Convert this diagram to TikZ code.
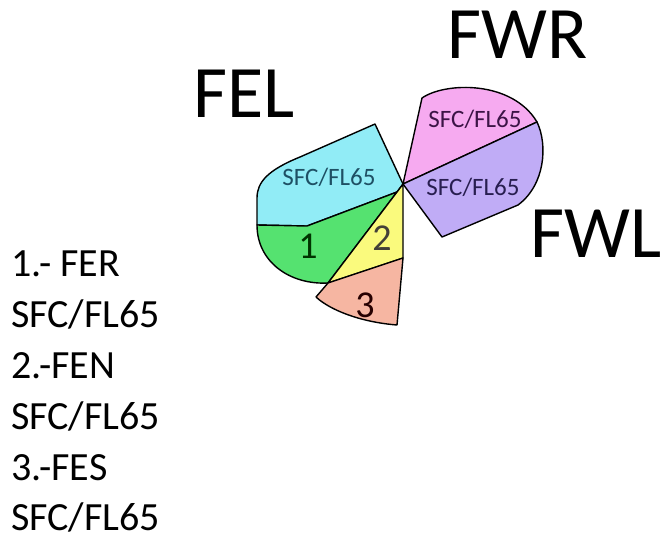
\documentclass[tikz,border=0pt]{standalone}
\usepackage{fontspec}
\setmainfont{Carlito}
\definecolor{cyanF}{RGB}{145,236,246}
\definecolor{greenF}{RGB}{85,226,112}
\definecolor{yellowF}{RGB}{250,250,125}
\definecolor{salmonF}{RGB}{246,182,162}
\definecolor{pinkF}{RGB}{246,170,240}
\definecolor{purpleF}{RGB}{192,172,246}
\definecolor{tealtext}{RGB}{30,80,100}
\definecolor{plumtext}{RGB}{60,20,70}
\definecolor{violettext}{RGB}{40,30,80}
\tikzset{
  zone/.style={draw=black, line width=1.4pt, line join=round},
  bigtitle/.style={anchor=base west, inner sep=0pt, font=\fontsize{74}{80}\selectfont},
  listline/.style={anchor=base west, inner sep=0pt, font=\fontsize{40}{46}\selectfont},
  zonelabel/.style={inner sep=0pt, font=\fontsize{25}{29}\selectfont},
  zonenum/.style={inner sep=0pt, font=\fontsize{38}{42}\selectfont},
}
\begin{document}
\begin{tikzpicture}[x=1pt,y=-1pt]
\useasboundingbox (0,0) rectangle (660,544);

% shared vertices
\coordinate (C) at (403,184);
\coordinate (Ctop) at (375,124);
\coordinate (Cleft) at (257,225);
\coordinate (Ckink) at (307,226);
\coordinate (Cinner) at (397,192);
\coordinate (Yright) at (403,258);
\coordinate (Ybot) at (328,283);
\coordinate (Sbot) at (397,325);
\coordinate (Stip) at (316,297);
\coordinate (Ptop) at (422,98);
\coordinate (Pright) at (537,122);
\coordinate (Vcorner) at (518,205);
\coordinate (Vbot) at (442,237);

% FEL sector (upper part)
\filldraw[zone, fill=cyanF] (C) -- (Ctop) -- (300,157)
  .. controls (268,170) and (257,182) .. (257,198) -- (Cleft)
  -- (Ckink) -- (Cinner) -- cycle;
% zone 1
\filldraw[zone, fill=greenF] (Cleft) -- (Ckink) -- (Cinner) -- (Ybot)
  .. controls (290,285) and (257,262) .. (Cleft) -- cycle;
% zone 2
\filldraw[zone, fill=yellowF] (C) -- (Yright) -- (Ybot) -- (Cinner) -- cycle;
% zone 3
\filldraw[zone, fill=salmonF] (Ybot) -- (Yright) -- (Sbot)
  .. controls (360,322) and (330,310) .. (Stip) -- cycle;
% FWR sector
\filldraw[zone, fill=pinkF] (C) -- (Ptop)
  .. controls (445,82) and (512,80) .. (Pright) -- cycle;
% FWL sector
\filldraw[zone, fill=purpleF] (C) -- (Pright)
  .. controls (548,145) and (545,185) .. (Vcorner) -- (Vbot) -- cycle;

% sector labels
\node[zonelabel, text=tealtext] (lblEL) at (329,177) {SFC/FL65};
\node[zonelabel, text=plumtext] (lblWR) at (475,119) {SFC/FL65};
\node[zonelabel, text=violettext] (lblWL) at (473,187) {SFC/FL65};
\node[zonenum, text=black!80!green] (n1) at (308,246) {1};
\node[zonenum, text=black!85!yellow] (n2) at (382,238) {2};
\node[zonenum, text=black!85!red] (n3) at (365,305) {3};

% titles
\node[bigtitle] (FEL) at (193,117) {FEL};
\node[bigtitle] (FWR) at (447,58) {FWR};
\node[bigtitle] (FWL) at (530,257) {FWL};

% legend
\node[listline] (k1) at (11,276) {1.- FER};
\node[listline] (k1b) at (11,327) {SFC/FL65};
\node[listline] (k2) at (11,378) {2.-FEN};
\node[listline] (k2b) at (11,429) {SFC/FL65};
\node[listline] (k3) at (11,480) {3.-FES};
\node[listline] (k3b) at (11,530) {SFC/FL65};
\end{tikzpicture}
\end{document}
